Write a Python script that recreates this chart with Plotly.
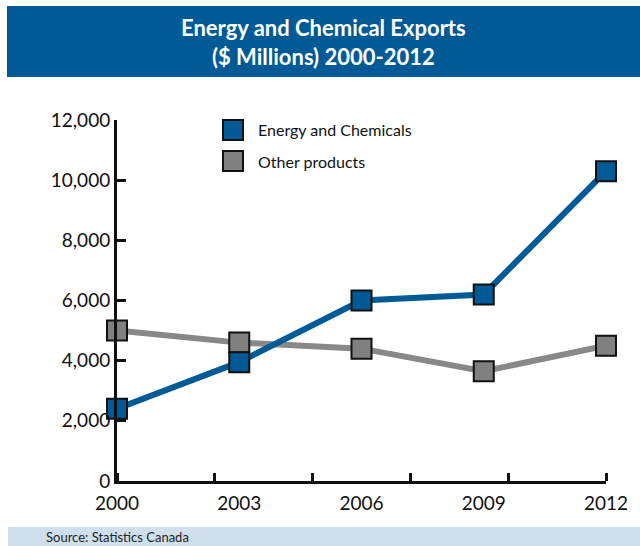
import plotly.graph_objects as go

years = [2000, 2003, 2006, 2009, 2012]
energy_chemicals = [2400, 3950, 6000, 6200, 10300]
other_products = [5000, 4600, 4400, 3650, 4500]
series_names = ["Energy and Chemicals", "Other products"]
y_ticks = [0, 2000, 4000, 6000, 8000, 10000, 12000]
x_minor_ticks = [2000, 2002.4, 2004.8, 2007.2, 2009.6, 2012]
title_lines = ["Energy and Chemical Exports", "($ Millions) 2000-2012"]
source_text = "Source: Statistics Canada"

BLUE = "#005a96"
GRAY = "#888888"
FONT = "Lato, 'Open Sans', sans-serif"

W, H = 640, 546
L, R, T, B = 117, 34, 120, 65


def px(x):
    return (x - L) / (W - L - R)


def py(y):
    return (H - B - y) / (H - T - B)


fig = go.Figure()
fig.add_trace(go.Scatter(
    x=years, y=other_products, mode="lines+markers", name=series_names[1],
    line=dict(color=GRAY, width=6),
    marker=dict(symbol="square", size=20, color="#808080",
                line=dict(color="#111111", width=2)),
    cliponaxis=False, showlegend=False))
fig.add_trace(go.Scatter(
    x=years, y=energy_chemicals, mode="lines+markers", name=series_names[0],
    line=dict(color=BLUE, width=6),
    marker=dict(symbol="square", size=20, color=BLUE,
                line=dict(color="#111111", width=2)),
    cliponaxis=False, showlegend=False))

shapes = [
    # title band
    dict(type="rect", xref="paper", yref="paper", x0=px(7), x1=px(640),
         y0=py(77), y1=py(6), fillcolor=BLUE, line=dict(width=0), layer="below"),
    # source band
    dict(type="rect", xref="paper", yref="paper", x0=px(8), x1=px(640),
         y0=py(546), y1=py(527), fillcolor="#cfe0ec", line=dict(width=0), layer="below"),
    # legend squares
    dict(type="rect", xref="paper", yref="paper", x0=px(223), x1=px(243),
         y0=py(140), y1=py(120), fillcolor=BLUE, line=dict(color="#111111", width=2)),
    dict(type="rect", xref="paper", yref="paper", x0=px(223), x1=px(243),
         y0=py(171), y1=py(151), fillcolor="#808080", line=dict(color="#111111", width=2)),
]

annotations = [
    dict(text="<b>" + title_lines[0] + "<br>" + title_lines[1] + "</b>",
         xref="paper", yref="paper", x=px(323), y=py(42), xanchor="center", yanchor="middle",
         showarrow=False, font=dict(family=FONT, size=22, color="white")),
    dict(text=source_text, xref="paper", yref="paper", x=px(44), y=py(537),
         xanchor="left", yanchor="middle", showarrow=False,
         font=dict(family=FONT, size=13, color="#222222")),
    dict(text=series_names[0], xref="paper", yref="paper", x=px(256), y=py(130),
         xanchor="left", yanchor="middle", showarrow=False,
         font=dict(family=FONT, size=16, color="#111111")),
    dict(text=series_names[1], xref="paper", yref="paper", x=px(256), y=py(161),
         xanchor="left", yanchor="middle", showarrow=False,
         font=dict(family=FONT, size=16, color="#111111")),
]

fig.update_layout(
    width=W, height=H, margin=dict(l=L, r=R, t=T, b=B),
    paper_bgcolor="white", plot_bgcolor="white",
    shapes=shapes, annotations=annotations, showlegend=False,
    font=dict(family=FONT, color="#111111"),
)
fig.update_xaxes(
    range=[2000, 2012], tickmode="array", tickvals=years,
    ticktext=[str(y) for y in years], ticks="", showgrid=False, zeroline=False,
    showline=True, linecolor="#111111", linewidth=3, ticklabelstandoff=3,
    tickfont=dict(family=FONT, size=19, color="#111111"),
    minor=dict(tickmode="array", tickvals=x_minor_ticks, ticks="inside",
               ticklen=8, tickwidth=3, tickcolor="#111111", showgrid=False),
)
fig.update_yaxes(
    range=[0, 12000], tickmode="array", tickvals=y_ticks,
    ticktext=[f"{v:,}" for v in y_ticks], ticks="inside", ticklen=9, tickwidth=3,
    tickcolor="#111111", showgrid=False, zeroline=False,
    showline=True, linecolor="#111111", linewidth=3,
    tickfont=dict(family=FONT, size=19, color="#111111"),
)

fig.write_html("out.html", config={"displayModeBar": False},
               post_script="document.body.style.margin='0px';document.body.style.overflow='hidden';")
